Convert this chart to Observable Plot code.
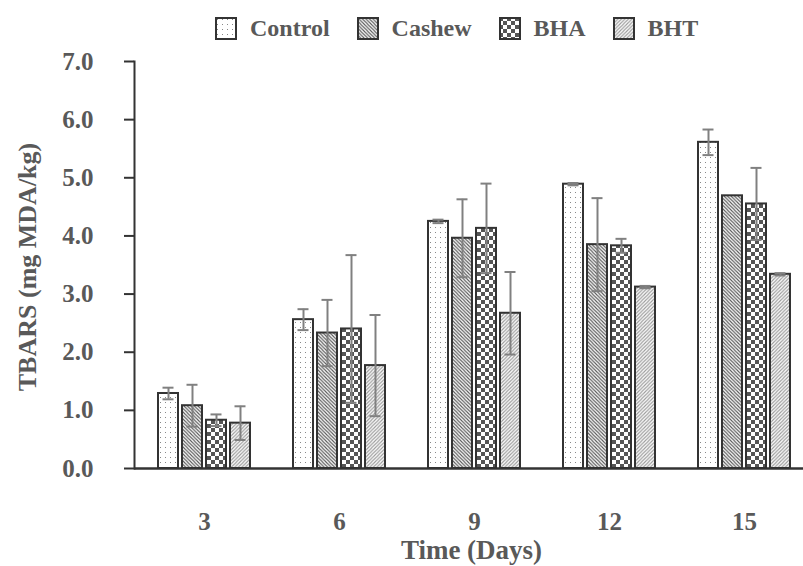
<!DOCTYPE html>
<html>
<head>
<meta charset="utf-8">
<script src="https://cdn.jsdelivr.net/npm/d3@7"></script>
<script src="https://cdn.jsdelivr.net/npm/@observablehq/plot@0.6"></script>
<style>
  body { margin: 0; background: #fff; }
  #wrap { position: relative; width: 803px; height: 566px; font-family: "Liberation Serif", "Times New Roman", serif; font-weight: bold; color: #595959; }
  #legend { position: absolute; top: 17px; left: 215px; display: flex; align-items: center; font-size: 24px; line-height: 23px; }
  .item { display: flex; align-items: center; margin-right: 27px; }
  .sw { width: 22px; height: 23px; margin-right: 13px; }
  #defs { position: absolute; width: 0; height: 0; }
  .layer { position: absolute; left: 0; top: 0; }
</style>
</head>
<body>
<svg id="defs" width="0" height="0">
  <defs>
    <pattern id="pControl" width="5" height="5" patternUnits="userSpaceOnUse">
      <rect width="5" height="5" fill="#fff"/>
      <rect x="2" y="2" width="1" height="1" fill="#888"/>
    </pattern>
    <pattern id="pCashew" width="3.5" height="3.5" patternUnits="userSpaceOnUse">
      <rect width="3.5" height="3.5" fill="#fff"/>
      <path d="M-1,-1 L4.5,4.5 M-1,2.5 L1,4.5 M2.5,-1 L4.5,1" stroke="#555" stroke-width="1.1"/>
    </pattern>
    <pattern id="pBHA" width="8" height="8" patternUnits="userSpaceOnUse">
      <rect width="8" height="8" fill="#fff"/>
      <rect width="4" height="4" fill="#555"/>
      <rect x="4" y="4" width="4" height="4" fill="#555"/>
    </pattern>
    <pattern id="pBHT" width="3.5" height="3.5" patternUnits="userSpaceOnUse">
      <rect width="3.5" height="3.5" fill="#fff"/>
      <path d="M-1,4.5 L4.5,-1 M-1,1 L1,-1 M2.5,4.5 L4.5,2.5" stroke="#999" stroke-width="1.1"/>
    </pattern>
  </defs>
</svg>
<div id="wrap">
  <div id="bars" class="layer"></div>
  <div id="axes" class="layer"></div>
  <div id="legend"></div>
</div>
<script>
const days = [3, 6, 9, 12, 15];
const series = ["Control", "Cashew", "BHA", "BHT"];
const control = [1.29, 2.56, 4.25, 4.89, 5.61];
const cashew = [1.08, 2.33, 3.96, 3.85, 4.69];
const bha = [0.83, 2.40, 4.13, 3.83, 4.55];
const bht = [0.78, 1.77, 2.67, 3.12, 3.34];
const controlErr = [0.10, 0.18, 0.03, 0.02, 0.22];
const cashewErr = [0.36, 0.57, 0.67, 0.80, 0.00];
const bhaErr = [0.10, 1.27, 0.77, 0.12, 0.62];
const bhtErr = [0.29, 0.87, 0.71, 0.02, 0.02];
const yTicks = [0, 1, 2, 3, 4, 5, 6, 7];
const xLabel = "Time (Days)";
const yLabel = "TBARS (mg MDA/kg)";

const patterns = ["url(#pControl)", "url(#pCashew)", "url(#pBHA)", "url(#pBHT)"];
const values = [control, cashew, bha, bht];
const errs = [controlErr, cashewErr, bhaErr, bhtErr];

const data = [];
days.forEach((d, i) => series.forEach((s, j) => data.push({day: d, series: s, v: values[j][i], e: errs[j][i]})));
const errData = data.filter(d => d.e > 0);

const axisColor = "#333";
const errColor = "#808080";
const textColor = "#595959";

const common = {
  width: 803,
  height: 566,
  marginTop: 61,
  marginBottom: 98,
  marginLeft: 134,
  marginRight: 3,
  style: {fontFamily: "'Liberation Serif', 'Times New Roman', serif", fontWeight: "bold", color: textColor, fontSize: "25px", background: "transparent", overflow: "visible"}
};

const bars = Plot.plot({
  ...common,
  fx: {domain: days, paddingInner: 0.305, paddingOuter: 0.118, align: 0.72, axis: null},
  x: {domain: series, paddingInner: 0.17, paddingOuter: 0, axis: null},
  y: {domain: [0, 7], axis: null},
  color: {domain: series, range: patterns, type: "ordinal"},
  marks: [
    Plot.barY(data, {fx: "day", x: "series", y: "v", fill: "series", stroke: axisColor, strokeWidth: 2}),
    Plot.ruleX(errData, {fx: "day", x: "series", y1: d => d.v - d.e, y2: d => d.v + d.e, stroke: errColor, strokeWidth: 2}),
    Plot.tickY(errData, {fx: "day", x: "series", y: d => d.v + d.e, stroke: errColor, strokeWidth: 2, insetLeft: 4.5, insetRight: 4.5}),
    Plot.tickY(errData, {fx: "day", x: "series", y: d => d.v - d.e, stroke: errColor, strokeWidth: 2, insetLeft: 4.5, insetRight: 4.5}),
    Plot.axisFx({anchor: "bottom", tickSize: 0, tickPadding: 44, fontSize: 25, fill: textColor, label: null})
  ]
});
document.getElementById("bars").appendChild(bars);

const axes = Plot.plot({
  ...common,
  y: {domain: [0, 7], axis: null},
  x: {axis: null},
  marks: [
    Plot.ruleY([0], {stroke: axisColor, strokeWidth: 2.5, insetRight: -3}),
    Plot.frame({anchor: "left", stroke: axisColor, strokeWidth: 2}),
    Plot.tickY(yTicks, {y: d => d, stroke: axisColor, strokeWidth: 2, insetLeft: -10, insetRight: 666}),
    Plot.text(yTicks, {y: d => d, text: d => d.toFixed(1), frameAnchor: "left", textAnchor: "end", dx: -41, fontSize: 25, fill: textColor}),
    Plot.text([yLabel], {frameAnchor: "left", textAnchor: "middle", lineAnchor: "middle", rotate: -90, dx: -107, dy: 2, fontSize: 26, fill: textColor}),
    Plot.text([xLabel], {frameAnchor: "bottom", textAnchor: "middle", lineAnchor: "middle", dy: 82, dx: 4, fontSize: 27, fill: textColor})
  ]
});
document.getElementById("axes").appendChild(axes);

const legend = document.getElementById("legend");
series.forEach((s, j) => {
  const item = document.createElement("div");
  item.className = "item";
  item.innerHTML = `<svg class="sw" width="22" height="23"><rect x="1" y="1" width="20" height="21" fill="${patterns[j]}" stroke="#333" stroke-width="2"/></svg><span>${s}</span>`;
  legend.appendChild(item);
});
</script>
</body>
</html>
